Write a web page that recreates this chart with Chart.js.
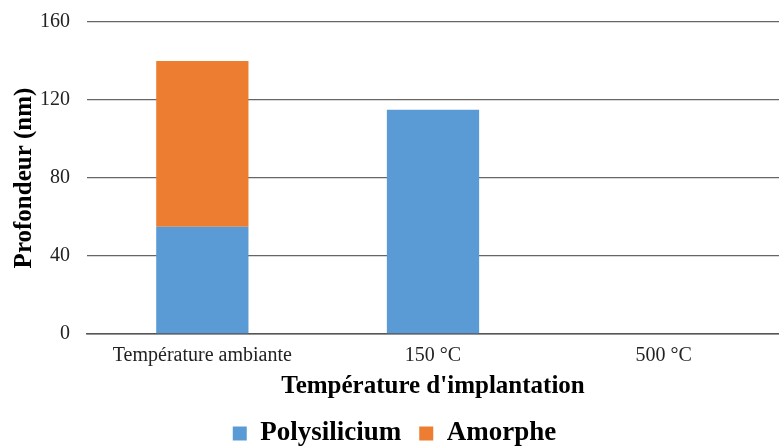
<!DOCTYPE html>
<html>
<head>
<meta charset="utf-8">
<script src="https://cdn.jsdelivr.net/npm/chart.js@4"></script>
<style>
  body { margin: 0; background: #fff; }
  #wrap { width: 779px; height: 446px; }
</style>
</head>
<body>
<div id="wrap"><canvas id="chart" width="779" height="446"></canvas></div>
<script>
var categories = ["Température ambiante", "150 °C", "500 °C"];
var polysilicium = [55, 115, 0];
var amorphe = [85, 0, 0];
var yTicks = [0, 40, 80, 120, 160];

var serif = "'Liberation Serif', 'Times New Roman', serif";

new Chart(document.getElementById("chart"), {
  type: 'bar',
  data: {
    labels: categories,
    datasets: [
      {
        label: "Polysilicium",
        data: polysilicium,
        backgroundColor: "#5b9bd5",
        borderWidth: 0
      },
      {
        label: "Amorphe",
        data: amorphe,
        backgroundColor: "#ed7d31",
        borderWidth: 0
      }
    ]
  },
  options: {
    responsive: false,
    animation: false,
    layout: { padding: { top: 22, right: 0, left: 10, bottom: -11 } },
    datasets: {
      bar: { categoryPercentage: 1.0, barPercentage: 0.4 }
    },
    plugins: {
      tooltip: { enabled: false },
      legend: {
        position: 'bottom',
        labels: {
          color: '#000',
          font: { family: serif, size: 27, weight: 'bold' },
          boxWidth: 14,
          boxHeight: 14,
          padding: 18
        }
      }
    },
    scales: {
      x: {
        stacked: true,
        grid: { display: false, drawTicks: false },
        border: { display: true, color: '#555', width: 1.5 },
        ticks: {
          color: '#222',
          font: { family: serif, size: 20 },
          padding: 10,
          maxRotation: 0
        },
        title: {
          display: true,
          text: "Température d'implantation",
          color: '#000',
          font: { family: serif, size: 25, weight: 'bold' },
          padding: { top: -6, bottom: 0 }
        }
      },
      y: {
        stacked: true,
        min: 0,
        max: 160,
        afterBuildTicks: function (axis) {
          axis.ticks = yTicks.map(function (v) { return { value: v }; });
        },
        afterFit: function (axis) {
          axis.width = 77;
          axis.paddingTop = 0;
          axis.paddingBottom = 0;
        },
        grid: { color: '#666', lineWidth: 1.3, drawTicks: false },
        border: { display: false },
        ticks: {
          color: '#222',
          font: { family: serif, size: 20 },
          padding: 17
        },
        title: {
          display: true,
          text: "Profondeur (nm)",
          color: '#000',
          font: { family: serif, size: 25, weight: 'bold' },
          padding: { top: 0, bottom: 0 }
        }
      }
    }
  }
});
</script>
</body>
</html>
